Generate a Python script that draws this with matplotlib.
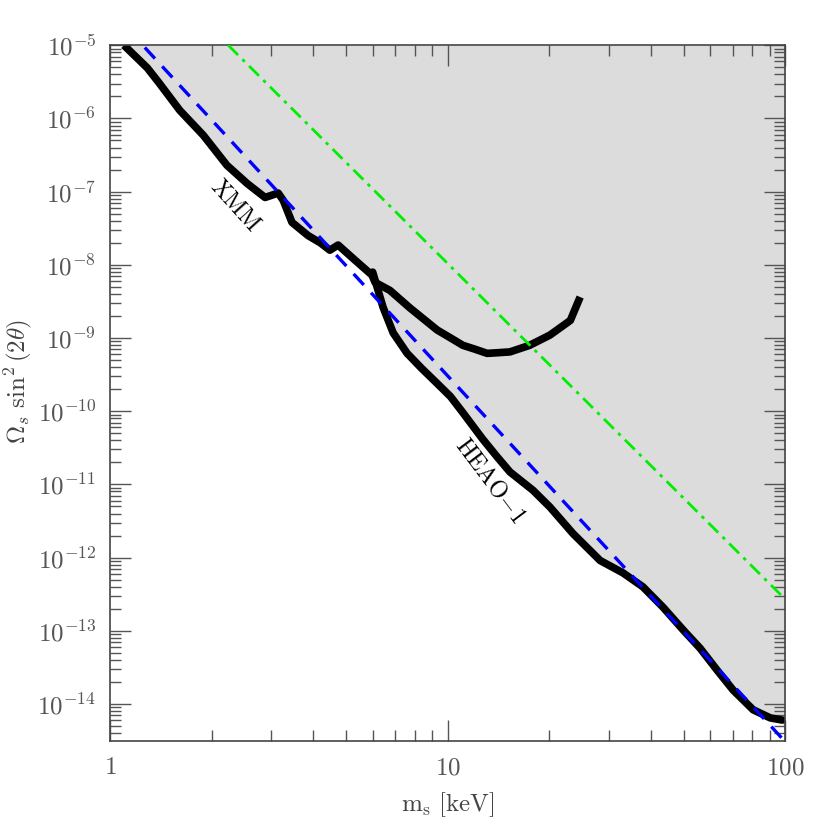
import numpy as np
import matplotlib
matplotlib.use("Agg")
import matplotlib.pyplot as plt
from matplotlib.ticker import LogLocator, NullFormatter

# XMM bound (mass in keV, log10 of Omega_s sin^2(2theta))
xmm_m = [1.10, 1.29, 1.39, 1.61, 1.89, 2.22, 2.55, 2.88, 3.15, 3.26, 3.46, 3.86,
         4.20, 4.48, 4.74, 5.30, 5.97, 6.10, 6.75, 7.74, 9.31, 10.3, 11.1, 12.0,
         13.1, 14.2, 15.3, 17.5, 20.1, 23.1, 24.7]
xmm_logy = [-5.00, -5.31, -5.50, -5.89, -6.23, -6.64, -6.89, -7.08, -7.02, -7.12, -7.42, -7.60,
            -7.70, -7.80, -7.73, -7.93, -8.14, -8.24, -8.35, -8.59, -8.89, -9.01, -9.10, -9.15,
            -9.21, -9.20, -9.19, -9.10, -8.96, -8.76, -8.44]

# HEAO-1 bound
heao_m = [6.00, 6.44, 6.90, 7.59, 8.40, 9.31, 10.2, 11.1, 12.7, 14.0, 15.3, 17.9, 20.1, 23.5, 28.3,
          33.1, 37.9, 43.5, 49.9, 56.0, 62.9, 70.1, 80.4, 90.3, 98.0]
heao_logy = [-8.10, -8.58, -8.93, -9.21, -9.42, -9.62, -9.80, -10.02, -10.38, -10.62, -10.83, -11.08,
             -11.31, -11.67, -12.04, -12.21, -12.40, -12.68, -12.99, -13.24, -13.54, -13.81,
             -14.08, -14.19, -14.22]

# straight-line bounds (end points)
dash_m = [1.0, 100.0]
dash_y = [3.05e-5, 3.05e-15]
dashdot_m = [2.24, 100.0]
dashdot_y = [1.0e-5, 2.7e-13]

y_decades = np.arange(-14, -4)
x_ticks = [1, 10, 100]

xmm_y = 10.0 ** np.array(xmm_logy)
heao_y = 10.0 ** np.array(heao_logy)

# lower edge of the excluded region
n_join = 16  # XMM points before the HEAO-1 curve takes over
env_m = np.concatenate([xmm_m[:n_join], heao_m, [100.0]])
env_y = np.concatenate([xmm_y[:n_join], heao_y, [dash_y[1] * 1.1]])

plt.rcParams["mathtext.fontset"] = "cm"

fig = plt.figure(figsize=(8.3, 8.3), dpi=100)
ax = fig.add_axes([0.1325, 0.107, 0.8135, 0.8385])

ax.fill_between(env_m, env_y, 1e-5, color="#dcdcdc", lw=0, zorder=1)

ax.plot(dash_m, dash_y, color="#0000ff", lw=2.4, ls=(0, (4.5, 3.2)), zorder=3)
ax.plot(dashdot_m, dashdot_y, color="#00ee00", lw=2.0, ls=(0, (5, 2.2, 1.2, 2.2)), zorder=3)
ax.plot(xmm_m, xmm_y, color="black", lw=5.5, solid_capstyle="butt", zorder=2)
ax.plot(heao_m, heao_y, color="black", lw=5.5, solid_capstyle="round", zorder=2)

ax.text(2.35, 10 ** -7.19, r"$\mathrm{XMM}$", fontsize=17, rotation=-48,
        ha="center", va="center")
ax.text(13.4, 10 ** -10.94, r"$\mathrm{HEAO{-}1}$", fontsize=17, rotation=-53,
        ha="center", va="center")

ax.set_xscale("log")
ax.set_yscale("log")
ax.set_xlim(1, 100)
ax.set_ylim(3.1e-15, 1e-5)

ax.set_yticks(10.0 ** y_decades)
ax.set_yticklabels([r"$10^{%d}$" % d for d in y_decades])
ax.yaxis.set_minor_locator(LogLocator(base=10, subs=np.arange(2, 10), numticks=20))
ax.yaxis.set_minor_formatter(NullFormatter())
ax.xaxis.set_minor_formatter(NullFormatter())
ax.set_xticks(x_ticks)
ax.set_xticklabels([r"$%d$" % t for t in x_ticks])

ax.tick_params(which="both", direction="in", top=True, right=True, color="#555555",
               labelcolor="#555555", labelsize=18)
ax.tick_params(which="major", length=15, width=1.0, pad=10)
ax.tick_params(which="minor", length=8, width=1.0)
for s in ax.spines.values():
    s.set_color("#444444")
    s.set_linewidth(1.2)

ax.set_xlabel(r"$\mathrm{m_s\ [keV]}$", fontsize=18, color="#444444", labelpad=8)
ax.set_ylabel(r"$\Omega_s\ \sin^2(2\theta)$", fontsize=18, color="#444444")
ax.yaxis.set_label_coords(-0.113, 0.517)

fig.savefig("out.png", dpi=100)
